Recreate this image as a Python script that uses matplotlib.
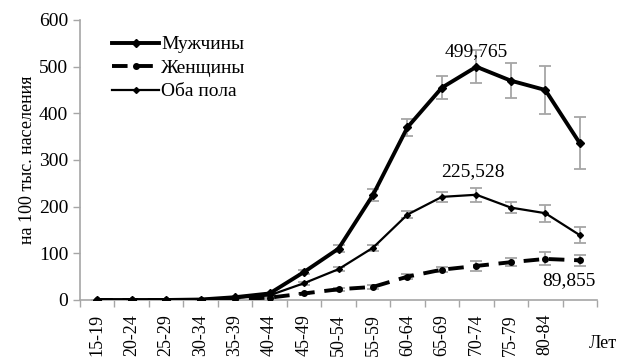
import matplotlib
matplotlib.use("Agg")
import matplotlib.pyplot as plt
from matplotlib.lines import Line2D
import numpy as np

categories = ["15-19", "20-24", "25-29", "30-34", "35-39", "40-44", "45-49", "50-54",
              "55-59", "60-64", "65-69", "70-74", "75-79", "80-84", ""]
men = [0, 0, 0, 1, 6, 14, 60, 110, 225, 370, 455, 499.765, 470, 450, 336]
men_err = [0, 0, 0, 0, 1, 2, 4, 7, 12, 18, 25, 35, 37, 52, 56]
women = [0, 0, 0, 0, 2, 5, 14, 23, 28, 50, 65, 73, 81, 88, 85]
women_err = [0, 0, 0, 0, 0, 1, 2, 3, 4, 5, 6, 10, 8, 14, 12]
both = [0, 0, 0, 1, 4, 10, 36, 66, 112, 183, 221, 225.528, 198, 186, 139]
both_err = [0, 0, 0, 0, 1, 1, 3, 4, 6, 8, 10, 15, 12, 18, 17]
labels = ["Мужчины", "Женщины", "Оба пола"]
annots = ["499,765", "225,528", "89,855"]

plt.rcParams['font.family'] = ['Liberation Serif', 'DejaVu Serif']

fig = plt.figure(figsize=(6.19, 3.59), dpi=100)
ax = fig.add_axes([80/619, 59/359, 517/619, 280/359])

x = np.arange(len(categories))
gray = "#a6a6a6"
ekw = dict(ecolor=gray, elinewidth=1.3, capsize=4, capthick=1.3)

styles = [
    dict(color="black", lw=2.8, marker="D", ms=4),
    dict(color="black", lw=2.8, marker="o", ms=4, dashes=(4, 2.5)),
    dict(color="black", lw=1.6, marker="D", ms=3),
]
for vals, errs, st in zip([men, women, both], [men_err, women_err, both_err], styles):
    ax.errorbar(x, vals, yerr=errs, zorder=3, **st, **ekw)

handles = [Line2D([], [], **st) for st in styles]

ax.set_xlim(-0.5, len(categories) - 0.5)
ax.set_ylim(0, 600)
ax.set_yticks(np.arange(0, 601, 100))
ax.tick_params(axis="y", labelsize=14, color=gray, length=5, width=1)
ax.set_xticks(x)
ax.set_xticklabels(categories, rotation=90, fontsize=13)
ax.tick_params(axis="x", which="major", length=0, pad=10)
ax.set_xticks(np.arange(-0.5, len(categories), 1), minor=True)
ax.tick_params(axis="x", which="minor", length=5, color=gray, width=1)
for s in ["top", "right"]:
    ax.spines[s].set_visible(False)
for s in ["left", "bottom"]:
    ax.spines[s].set_color(gray)
    ax.spines[s].set_linewidth(1.2)

ax.set_ylabel("на 100 тыс. населения", fontsize=13, labelpad=2)

ax.text(11, 532, annots[0], fontsize=14, ha="center", va="center")
ax.text(10.9, 275, annots[1], fontsize=14, ha="center", va="center")
ax.text(13.7, 42, annots[2], fontsize=14, ha="center", va="center")

fig.text(603/619, 1 - 343/359, "Лет", fontsize=13, ha="center", va="center")

ax.legend(handles, labels, loc="upper left", bbox_to_anchor=(0.04, 0.985), frameon=False,
          fontsize=14, handlelength=2.4, handletextpad=0.1, labelspacing=0.3,
          borderaxespad=0.2)

fig.savefig("out.png", dpi=100)
